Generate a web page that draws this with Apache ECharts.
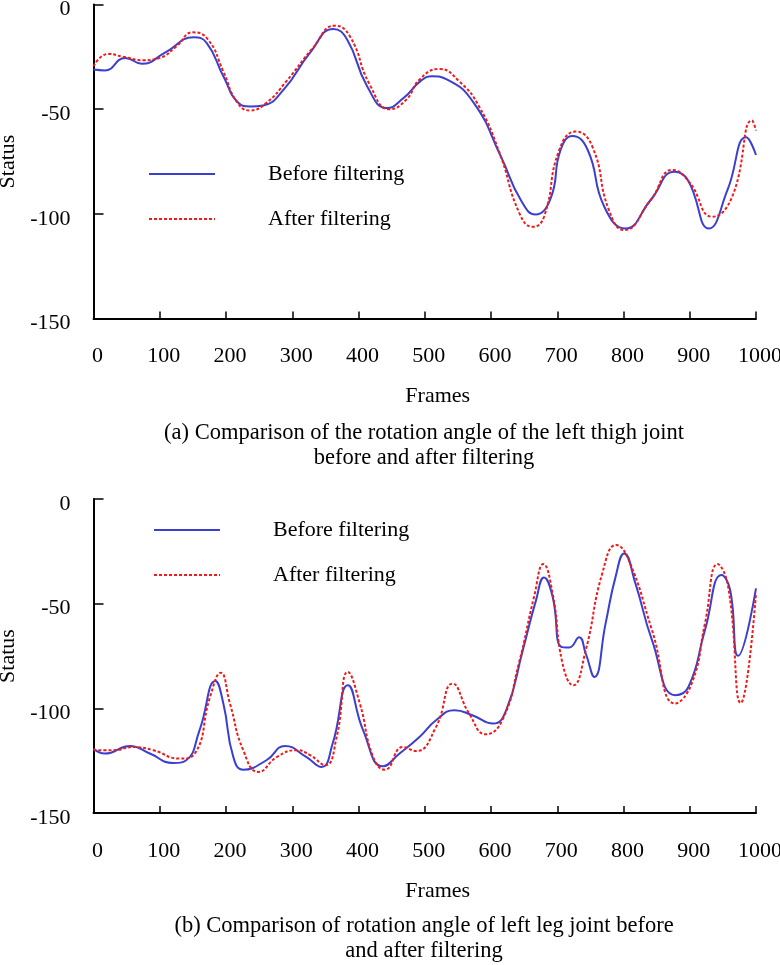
<!DOCTYPE html>
<html>
<head>
<meta charset="utf-8">
<script src="https://cdn.jsdelivr.net/npm/echarts@6/dist/echarts.min.js"></script>
<style>
  html, body { margin: 0; padding: 0; background: #fff; }
  #main { width: 780px; height: 965px; }
</style>
</head>
<body>
<div id="main"></div>
<script>
// x tick labels (frames) and y tick labels (status)
var xTicks = [0, 100, 200, 300, 400, 500, 600, 700, 800, 900, 1000];
var yTicks = [0, -50, -100, -150];
var seriesNames = ['Before filtering', 'After filtering'];

// (a) left thigh joint
var thighFramesBefore = [0, 17, 48, 73, 108, 151, 171, 196, 219, 237, 256, 287, 327, 362, 383, 413, 443, 468, 494, 511, 534, 574, 615, 645, 667, 690, 705, 723, 746, 771, 803, 841, 877, 897, 929, 957, 985, 1000];
var thighBefore = [-31.1, -31.5, -25.5, -28.3, -23, -15.7, -18.4, -34.3, -47, -48.7, -48.2, -40.7, -23, -11.7, -16.8, -39, -49.5, -44.7, -36.5, -34.3, -35.9, -47, -72.7, -93.4, -100.3, -92.6, -69.5, -62.8, -69.5, -96.6, -107, -93.4, -79.9, -83.8, -107, -88.6, -63.4, -71.9];
var thighFramesAfter = [0, 22, 45, 75, 100, 125, 150, 173, 196, 216, 236, 261, 291, 331, 364, 387, 417, 447, 472, 492, 522, 552, 582, 613, 643, 663, 680, 703, 728, 753, 778, 801, 841, 874, 899, 934, 964, 994, 1000];
var thighAfter = [-29.5, -23.6, -25, -26.6, -25.5, -20, -13.3, -16.8, -32, -46.3, -50.6, -47, -36.7, -20.8, -10.1, -15.2, -38.3, -50, -45.5, -35.9, -30.8, -36.7, -48.7, -71, -99.8, -106.2, -101.4, -69.5, -60.7, -67.9, -98.2, -107.8, -93.4, -79, -84.7, -101.4, -91.8, -55.4, -60.2];

// (b) left leg joint
var legFramesBefore = [0, 17, 55, 85, 120, 140, 160, 184, 196, 211, 226, 261, 289, 321, 344, 361, 384, 407, 437, 462, 492, 517, 545, 572, 603, 623, 648, 668, 680, 693, 706, 718, 733, 743, 756, 773, 788, 801, 818, 843, 878, 898, 923, 948, 961, 973, 1000];
var legBefore = [-119.2, -121.6, -118, -121.6, -126.1, -124.8, -110.5, -86.9, -97.7, -123.2, -129.3, -124.8, -118, -123.2, -128, -116.8, -89, -110.5, -127.7, -121.6, -113.7, -105.7, -100.9, -103.3, -107.3, -100.9, -72.2, -48.3, -37.5, -46.7, -70.6, -70.9, -66.1, -73.8, -85, -59.4, -37.2, -26, -40.3, -67.4, -93.7, -89.8, -62.6, -36.3, -43.5, -74.9, -42.7];
var legFramesAfter = [0, 30, 60, 90, 130, 153, 176, 192, 206, 226, 249, 277, 307, 327, 350, 367, 384, 402, 422, 440, 467, 487, 517, 542, 567, 592, 617, 642, 665, 679, 693, 708, 724, 743, 768, 789, 808, 843, 878, 903, 923, 942, 958, 977, 1000];
var legAfter = [-120, -120, -118.5, -120, -124, -121.6, -94.5, -83, -97.7, -120, -130.4, -123.2, -120, -122.4, -127.2, -113.7, -82.6, -97.7, -123.2, -129.3, -118.5, -120.4, -108.9, -88.2, -102.5, -112.4, -105.7, -78.6, -46.7, -31.1, -45.1, -78.6, -89, -72.2, -35.5, -22, -29.2, -62.6, -97.7, -88.1, -59.4, -31.1, -41.9, -97.4, -45.1];

var FONT = 'Liberation Serif';
var BLUE = '#3b3fcf';
var RED = '#f01a1a';

function pairs(xs, ys) {
    return xs.map(function (x, i) {
        return [x, ys[i]];
    });
}

function xAxisFor(idx) {
    return {
        gridIndex: idx,
        type: 'value',
        min: xTicks[0],
        max: xTicks[xTicks.length - 1],
        interval: xTicks[1] - xTicks[0],
        name: 'Frames',
        nameLocation: 'middle',
        nameGap: 67,
        nameTextStyle: { fontFamily: FONT, fontSize: 22, color: '#000', padding: [0, 0, 0, 26] },
        axisLine: { onZero: false, lineStyle: { color: '#000', width: 2 } },
        axisTick: { inside: true, length: 7, lineStyle: { color: '#000', width: 1.5 } },
        axisLabel: {
            margin: 27, fontFamily: FONT, fontSize: 22, color: '#000', padding: [0, 0, 0, 8],
            formatter: function (v) { return String(v); }
        },
        splitLine: { show: false }
    };
}

function yAxisFor(idx) {
    return {
        gridIndex: idx,
        type: 'value',
        min: yTicks[yTicks.length - 1],
        max: yTicks[0],
        interval: yTicks[0] - yTicks[1],
        name: 'Status',
        nameLocation: 'middle',
        nameGap: 69,
        nameTextStyle: { fontFamily: FONT, fontSize: 22, color: '#000' },
        axisLine: { onZero: false, lineStyle: { color: '#000', width: 2 } },
        axisTick: { inside: true, length: 10, lineStyle: { color: '#000', width: 1.5 } },
        // labels sit a little below their ticks in the original
        axisLabel: { margin: 23, fontFamily: FONT, fontSize: 22, color: '#000', verticalAlign: 'top', lineHeight: 10 },
        splitLine: { show: false }
    };
}

function lineSeries(name, idx, data, color, dashed) {
    return {
        name: name,
        type: 'line',
        xAxisIndex: idx,
        yAxisIndex: idx,
        data: data,
        smooth: 0.5,
        symbol: 'none',
        lineStyle: { color: color, width: 2, type: dashed ? [3, 2] : 'solid' },
        itemStyle: { color: color },
        z: dashed ? 3 : 2
    };
}

function legendAt(left, top) {
    return {
        left: left,
        top: top,
        padding: 0,
        orient: 'vertical',
        itemWidth: 66,
        itemHeight: 14,
        itemGap: 23,
        data: seriesNames,
        itemStyle: { opacity: 0 },
        textStyle: { fontFamily: FONT, fontSize: 22, color: '#000', lineHeight: 22, padding: [0, 0, 0, 48] }
    };
}

var chart = echarts.init(document.getElementById('main'), null, { renderer: 'canvas' });
var option = {
    animation: false,
    backgroundColor: '#fff',
    grid: [
        { left: 93.5, right: 24, top: 4.5, height: 314, containLabel: false, outerBoundsMode: 'none' },
        { left: 93.5, right: 24, top: 499, height: 314, containLabel: false, outerBoundsMode: 'none' }
    ],
    legend: [legendAt(148, 163), legendAt(153, 519)],
    xAxis: [xAxisFor(0), xAxisFor(1)],
    yAxis: [yAxisFor(0), yAxisFor(1)],
    series: [
        lineSeries(seriesNames[0], 0, pairs(thighFramesBefore, thighBefore), BLUE, false),
        lineSeries(seriesNames[1], 0, pairs(thighFramesAfter, thighAfter), RED, true),
        lineSeries(seriesNames[0], 1, pairs(legFramesBefore, legBefore), BLUE, false),
        lineSeries(seriesNames[1], 1, pairs(legFramesAfter, legAfter), RED, true)
    ],
    // figure captions
    graphic: [
        {
            type: 'text',
            style: {
                text: '(a) Comparison of the rotation angle of the left thigh joint\nbefore and after filtering',
                x: 424, y: 446, textAlign: 'center', textVerticalAlign: 'middle',
                font: '22.5px "Liberation Serif"', lineHeight: 25, fill: '#000'
            }
        },
        {
            type: 'text',
            style: {
                text: '(b) Comparison of rotation angle of left leg joint before\nand after filtering',
                x: 424, y: 939, textAlign: 'center', textVerticalAlign: 'middle',
                font: '22.5px "Liberation Serif"', lineHeight: 25, fill: '#000'
            }
        }
    ]
};
chart.setOption(option);
</script>
</body>
</html>
